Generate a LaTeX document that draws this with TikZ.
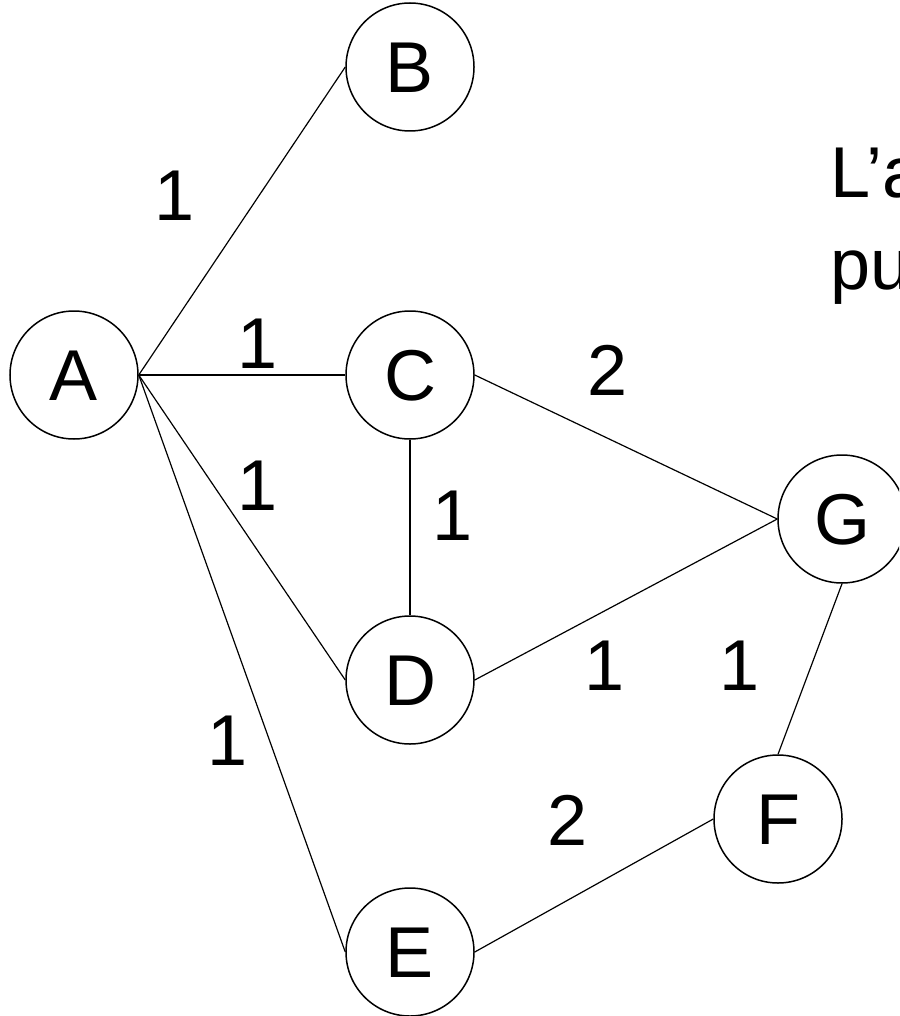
\documentclass[tikz,border=0pt]{standalone}
\usepackage{fontspec}
\setmainfont{Liberation Sans}
\begin{document}
\begin{tikzpicture}[x=1pt,y=-1pt,
  vertex/.style={circle,draw,line width=1.5pt,minimum size=128pt,inner sep=0pt,
    font=\fontsize{72}{86}\selectfont,text height=51.5pt,text depth=0pt},
  edge/.style={line width=1.2pt},
  wlabel/.style={font=\fontsize{72}{86}\selectfont,inner sep=0pt,text height=51.5pt,text depth=0pt}]
\useasboundingbox (0,0) rectangle (899,1016);
\clip (0,0) rectangle (899,1016);
\node[vertex] (A) at (74,375) {A};
\node[vertex] (B) at (410,67) {B};
\node[vertex] (C) at (410,375) {C};
\node[vertex] (D) at (410,680) {D};
\node[vertex] (E) at (410,952) {E};
\node[vertex] (G) at (842,519) {G};
\node[vertex] (F) at (778,819) {F};
\draw[edge] (A.east) -- (B.west);
\draw[edge] (A.east) -- (C.west);
\draw[edge] (A.east) -- (D.west);
\draw[edge] (A.east) -- (E.west);
\draw[edge] (C.south) -- (D.north);
\draw[edge] (C.east) -- (G.west);
\draw[edge] (D.east) -- (G.west);
\draw[edge] (G.south) -- (F.north);
\draw[edge] (E.east) -- (F.west);
\node[wlabel] (lAB) at (175,195) {1};
\node[wlabel] (lAC) at (258,343) {1};
\node[wlabel] (lAD) at (258,485) {1};
\node[wlabel] (lCD) at (453,515) {1};
\node[wlabel] (lCG) at (608,370) {2};
\node[wlabel] (lDG) at (605,665) {1};
\node[wlabel] (lGF) at (740,665) {1};
\node[wlabel] (lAE) at (228,740) {1};
\node[wlabel] (lEF) at (568,820) {2};
\node[anchor=base west,inner sep=0pt,font=\fontsize{72}{86}\selectfont] (txt) at (830,198) {L’a};
\node[anchor=base west,inner sep=0pt,font=\fontsize{72}{86}\selectfont] (txt2) at (830,289) {pu};
\end{tikzpicture}
\end{document}
